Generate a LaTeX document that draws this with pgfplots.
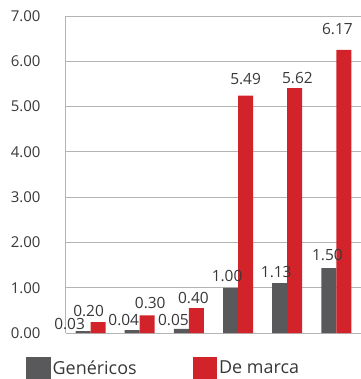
\documentclass[border=0pt]{standalone}
\usepackage{pgfplots}
\pgfplotsset{compat=1.18}
\usepackage{fontspec}
\setmainfont{Open Sans}
\definecolor{gen}{RGB}{89,89,91}
\definecolor{marca}{RGB}{210,35,42}
\definecolor{gridc}{RGB}{180,180,180}
\definecolor{txt}{RGB}{56,56,56}
\begin{document}
\begin{tikzpicture}
\begin{axis}[
  scale only axis, width=295bp, height=317bp,
  xmin=-0.5, xmax=5.5, ymin=0, ymax=7,
  ybar=0pt, bar width=15bp,
  ytick={0,1,...,7}, xtick=\empty,
  major tick length=0pt,
  ymajorgrids, grid style={gridc, line width=1bp},
  axis lines*=left,
  axis line style={gridc, line width=1bp},
  yticklabel style={/pgf/number format/fixed, /pgf/number format/fixed zerofill, /pgf/number format/precision=2, /pgf/number format/assume math mode=true,
    font=\fontsize{15}{17}\selectfont, text=txt, xshift=-22bp},
  point meta=explicit symbolic,
  nodes near coords,
  visualization depends on={\thisrow{dx} \as \dx},
  visualization depends on={\thisrow{dy} \as \dy},
  nodes near coords style={font=\fontsize{15.5}{17}\selectfont, text=txt, inner sep=0bp, anchor=base, xshift=\dx bp, yshift=\dy bp},
  legend style={at={(axis description cs:-0.1356,-0.0757)}, anchor=north west, draw=none, fill=none,
    legend columns=2, font=\fontsize{18}{21}\selectfont, text=txt, inner sep=0pt,
    /tikz/every even column/.append style={column sep=54bp}},
  legend image code/.code={\path[#1] (0bp,-11bp) rectangle (24.5bp,11bp);},
  clip=false,
]
\addplot[fill=gen, draw=none] table[meta=lab] {
x y lab dx dy
0 0.044 0.03 -13.5 1.4
1 0.066 0.04 -8.5 4.7
2 0.09 0.05 -8 3.7
3 0.995 1.00 -3.5 6
4 1.10 1.13 -3.5 6
5 1.43 1.50 -1.5 8
};
\addplot[fill=marca, draw=none] table[meta=lab] {
x y lab dx dy
0 0.24 0.20 -9.5 5.7
1 0.39 0.30 3 6.7
2 0.55 0.40 -3 4.4
3 5.24 5.49 0 11
4 5.41 5.62 2.7 4.7
5 6.25 6.17 -6.5 15.7
};
\legend{Genéricos, De marca}
\end{axis}
\pgfresetboundingbox
\path (current axis.south west) ++(-66bp,-46bp) rectangle ++(361bp,379bp);
\end{tikzpicture}
\end{document}
